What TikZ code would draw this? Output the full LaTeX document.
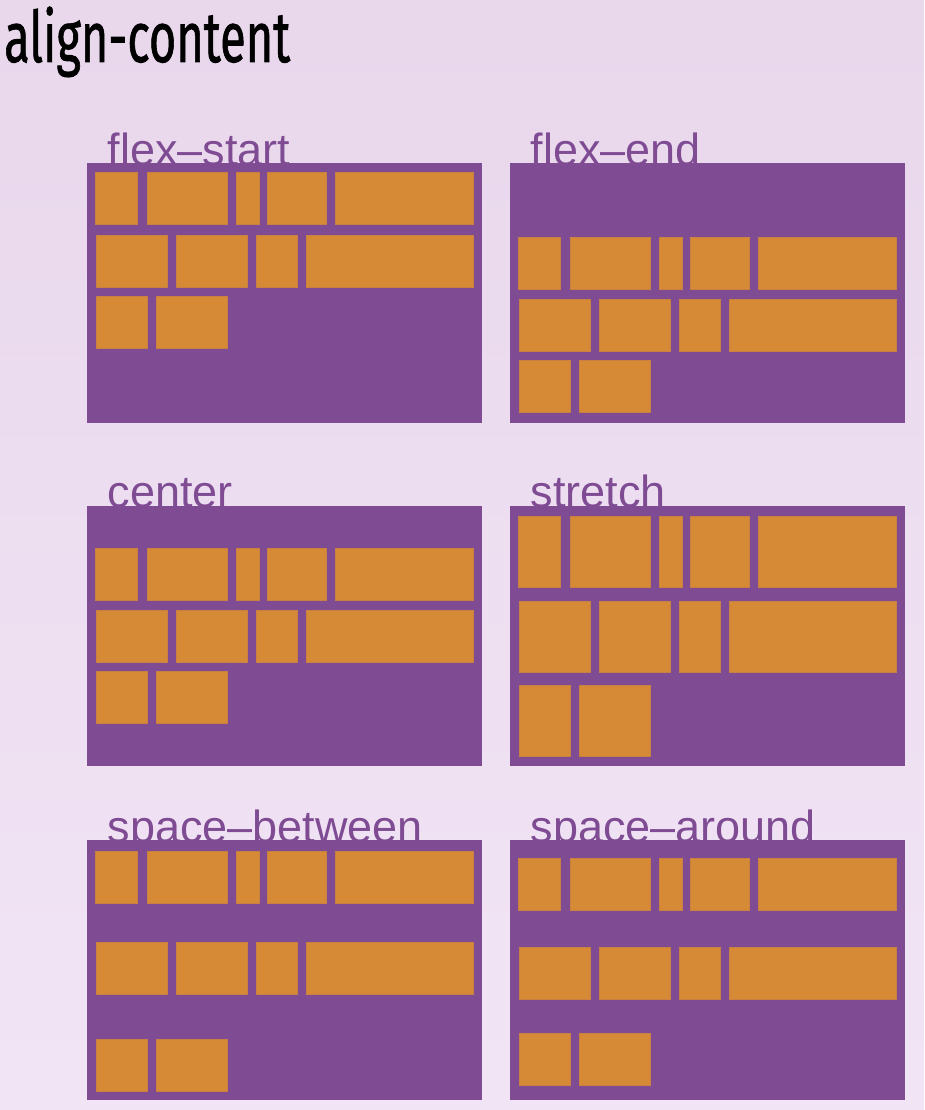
\documentclass[tikz,border=0pt]{standalone}
\usepackage{fontspec}
\usepackage{graphicx}
\setmainfont{Liberation Sans}
\newfontfamily\titlefont[FakeBold=1.2]{Fira Sans}
\usetikzlibrary{positioning}
\definecolor{bgtop}{RGB}{233,215,236}
\definecolor{bgbot}{RGB}{241,229,245}
\definecolor{pan}{RGB}{127,76,148}
\definecolor{itm}{RGB}{214,138,53}
% three wrapped lines of items: panel, row tops, row height
\newcommand{\flexrows}[5]{%
  \foreach \a/\b in {8.5/50,60/140,149/172,180/239,248/386.5}
    \draw[item] ([shift={(\a,-#2)}]#1.north west) rectangle ([shift={(\b,-#2-#5)}]#1.north west);
  \foreach \a/\b in {9/80,89/160,169/210,219/386.5}
    \draw[item] ([shift={(\a,-#3)}]#1.north west) rectangle ([shift={(\b,-#3-#5)}]#1.north west);
  \foreach \a/\b in {9/60,69/140}
    \draw[item] ([shift={(\a,-#4)}]#1.north west) rectangle ([shift={(\b,-#4-#5)}]#1.north west);
}
\begin{document}
\begin{tikzpicture}[x=1pt,y=1pt,%
  panel/.style={fill=pan,minimum width=395pt,minimum height=260pt,inner sep=0pt,outer sep=0pt},%
  lbl/.style={text=pan,font=\fontsize{45}{50}\selectfont,inner sep=0pt,anchor=base west},%
  item/.style={fill=itm,draw=itm!85!pan,line width=0.5pt}%
  ]
  \shade[top color=bgtop,bottom color=bgbot] (0,0) rectangle (924,-1110);
  \useasboundingbox (0,0) rectangle (924,-1110);
%
  \node (title) [anchor=base west,inner sep=0pt] at (4,-62)
    {\resizebox{286pt}{\height}{\titlefont\fontsize{71}{80}\selectfont align-content}};
%
  \node (fs) [panel,anchor=north west] at (87,-163.3) {};
  \node (fe) [panel,right=28pt of fs] {};
  \node (ce) [panel,below=82.4pt of fs] {};
  \node (st) [panel,right=28pt of ce] {};
  \node (sb) [panel,below=74.7pt of ce] {};
  \node (sa) [panel,right=28pt of sb] {};
%
  \node (fs-l) [lbl] at ([shift={(20.5,-2)}]fs.north west) {flex–start};
  \node (fe-l) [lbl] at ([shift={(20.5,-2)}]fe.north west) {flex–end};
  \node (ce-l) [lbl] at ([shift={(20.5,-2)}]ce.north west) {center};
  \node (st-l) [lbl] at ([shift={(20.5,-2)}]st.north west) {stretch};
  \node (sb-l) [lbl] at ([shift={(20.5,-2)}]sb.north west) {space–between};
  \node (sa-l) [lbl] at ([shift={(20.5,-2)}]sa.north west) {space–around};
%
  \flexrows{fs}{9.4}{71.7}{132.7}{52}
  \flexrows{fe}{74}{136}{196.7}{52}
  \flexrows{ce}{42.3}{104.7}{165.7}{52}
  \flexrows{st}{10.6}{96}{180}{70.5}
  \flexrows{sb}{10.7}{102}{199}{52}
  \flexrows{sa}{18}{106.7}{193.3}{52}
%
\end{tikzpicture}
\end{document}
